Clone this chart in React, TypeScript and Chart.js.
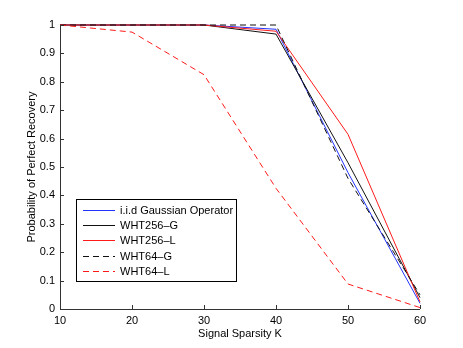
import React, { useEffect, useRef } from "react";
import { Chart, registerables } from "chart.js";

Chart.register(...registerables);

const sparsityK = [10, 20, 30, 40, 50, 60];
const gaussianOp = [1, 1, 1, 0.985, 0.48, 0.02];
const wht256G = [1, 1, 1, 0.968, 0.515, 0.04];
const wht256L = [1, 1, 1, 0.978, 0.615, 0.025];
const wht64G = [1, 1, 1, 1.0, 0.46, 0.05];
const wht64L = [1, 0.975, 0.825, 0.425, 0.088, 0.005];

const seriesNames = ["i.i.d Gaussian Operator", "WHT256–G", "WHT256–L", "WHT64–G", "WHT64–L"];
const seriesColors = ["#2233ff", "#111111", "#ff1a1a", "#111111", "#ff1a1a"];
const seriesDashes = [[], [], [], [6, 4], [6, 4]];
const xTicks = [10, 20, 30, 40, 50, 60];
const yTicks = [0, 0.1, 0.2, 0.3, 0.4, 0.5, 0.6, 0.7, 0.8, 0.9, 1];

const FONT = '"Liberation Sans", Arial, Helvetica, sans-serif';

const toPts = (vals: number[]) => vals.map((v, i) => ({ x: sparsityK[i], y: v }));

const axesPlugin = {
  id: "matlabAxes",
  afterDraw(chart: any) {
    const { ctx, chartArea, scales } = chart;
    const { left, right, top, bottom } = chartArea;
    ctx.save();
    ctx.strokeStyle = "#333";
    ctx.lineWidth = 1;
    ctx.setLineDash([]);
    ctx.beginPath();
    ctx.moveTo(left + 0.5, top);
    ctx.lineTo(left + 0.5, bottom + 0.5);
    ctx.lineTo(right, bottom + 0.5);
    ctx.stroke();
    ctx.beginPath();
    xTicks.forEach((t) => {
      const x = Math.round(scales.x.getPixelForValue(t)) + 0.5;
      ctx.moveTo(x, bottom);
      ctx.lineTo(x, bottom - 4);
    });
    yTicks.forEach((t) => {
      const y = Math.round(scales.y.getPixelForValue(t)) + 0.5;
      ctx.moveTo(left, y);
      ctx.lineTo(left + 4, y);
    });
    ctx.stroke();

    // axis titles
    ctx.fillStyle = "#000";
    ctx.font = `11px ${FONT}`;
    ctx.textAlign = "center";
    ctx.textBaseline = "middle";
    ctx.fillText("Signal Sparsity K", (left + right) / 2, 334);
    ctx.save();
    ctx.translate(32, (top + bottom) / 2);
    ctx.rotate(-Math.PI / 2);
    ctx.fillText("Probability of Perfect Recovery", 0, 0);
    ctx.restore();

    // legend
    const bx = 76.5, by = 199.5, bw = 160, bh = 82;
    ctx.fillStyle = "#fff";
    ctx.fillRect(bx, by, bw, bh);
    ctx.strokeStyle = "#000";
    ctx.strokeRect(bx, by, bw, bh);
    ctx.font = `11px ${FONT}`;
    ctx.textAlign = "left";
    ctx.textBaseline = "middle";
    seriesNames.forEach((name, i) => {
      const y = Math.round(210 + i * 15.2) + 0.5;
      ctx.strokeStyle = seriesColors[i];
      ctx.setLineDash(seriesDashes[i]);
      ctx.beginPath();
      ctx.moveTo(83, y);
      ctx.lineTo(115, y);
      ctx.stroke();
      ctx.setLineDash([]);
      ctx.fillStyle = "#000";
      ctx.fillText(name, 120, y);
    });
    ctx.restore();
  },
};

export default function App() {
  const ref = useRef<HTMLCanvasElement>(null);
  useEffect(() => {
    if (!ref.current) return;
    const values = [gaussianOp, wht256G, wht256L, wht64G, wht64L];
    const chart = new Chart(ref.current, {
      type: "line",
      data: {
        datasets: values.map((v, i) => ({
          label: seriesNames[i],
          data: toPts(v),
          borderColor: seriesColors[i],
          borderWidth: 1,
          borderDash: seriesDashes[i],
          pointRadius: 0,
          tension: 0,
          fill: false,
          clip: false as any,
          order: 4 - i,
        })),
      },
      options: {
        responsive: false,
        animation: false,
        devicePixelRatio: 1,
        layout: { padding: { left: 0, right: 43, top: 25, bottom: 0 } },
        plugins: { legend: { display: false }, tooltip: { enabled: false } },
        scales: {
          x: {
            type: "linear",
            min: 10,
            max: 60,
            grid: { display: false, drawTicks: false },
            border: { display: false },
            afterFit: (s: any) => { s.height = 39; },
            ticks: {
              stepSize: 10,
              padding: 5,
              color: "#000",
              font: { family: FONT, size: 11 },
              maxRotation: 0,
            },
          },
          y: {
            type: "linear",
            min: 0,
            max: 1,
            grid: { display: false, drawTicks: false },
            border: { display: false },
            afterFit: (s: any) => { s.width = 60; },
            ticks: {
              stepSize: 0.1,
              padding: 5,
              color: "#000",
              font: { family: FONT, size: 11 },
              callback: (v: any) => String(Math.round(Number(v) * 10) / 10),
            },
          },
        },
      },
      plugins: [axesPlugin],
    });
    return () => chart.destroy();
  }, []);
  return (
    <div style={{ position: "fixed", left: 0, top: 0, width: 463, height: 348, background: "#fff" }}>
      <canvas ref={ref} width={463} height={348} style={{ display: "block" }} />
    </div>
  );
}
